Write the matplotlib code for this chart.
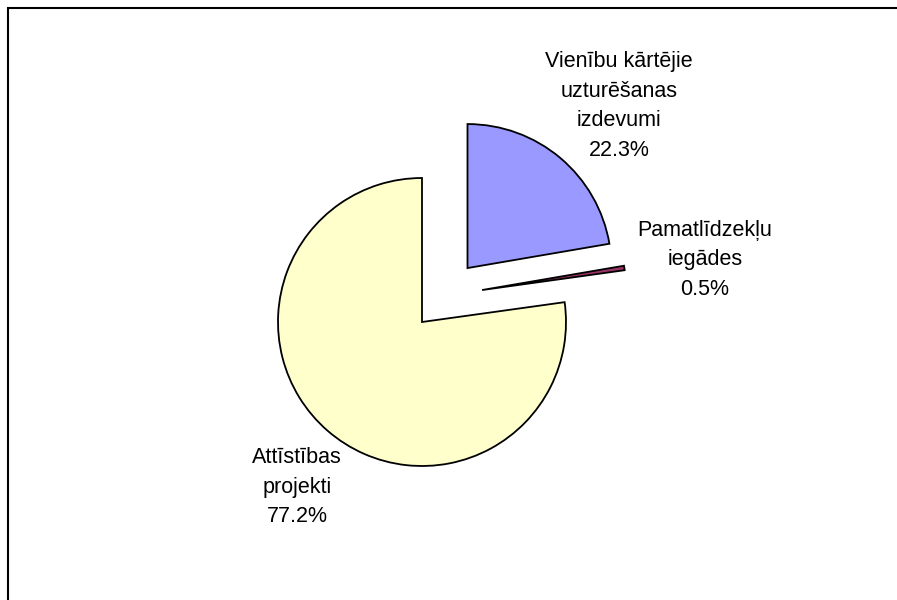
import matplotlib.pyplot as plt
from matplotlib.patches import Rectangle

# Slice data (clockwise from 12 o'clock)
labels = ['Vienību kārtējie\nuzturēšanas\nizdevumi', 'Pamatlīdzekļu\niegādes', 'Attīstības\nprojekti']
shares = [22.3, 0.5, 77.2]
colors = ['#9999FF', '#993366', '#FFFFCC']
explode = [0.49, 0.0, 0.0]
# label anchor points in pie-radius units
label_pos = [(1.368, 1.50), (1.965, 0.431), (-0.868, -1.146)]

fig = plt.figure(figsize=(8.97, 6.0), dpi=100)
ax = fig.add_axes([0, 0, 1, 1])

wedges, _ = ax.pie(shares, colors=colors, explode=explode, startangle=90,
                   counterclock=False, radius=1.0,
                   wedgeprops=dict(edgecolor='black', linewidth=1.3))

# the tiny slice is pulled out in its own direction
wedges[1].set_center((0.417, 0.222))

for lab, val, (x, y) in zip(labels, shares, label_pos):
    ax.text(x, y, f'{lab}\n{val:.1f}%', ha='center', va='center',
            fontsize=15.5, family='Liberation Sans', linespacing=1.55)

# axes spans the whole figure; 1 radius = 144 px, centre at (422, 322)
ax.set_xlim(-422 / 144, (897 - 422) / 144)
ax.set_ylim(-(600 - 322) / 144, 322 / 144)
ax.set_aspect('auto')
ax.axis('off')

# outer frame (only top and left edges fall inside the image)
fig.patches.append(Rectangle((7.5 / 897, -0.05), 1.2, (600 - 7.5) / 600 + 0.05,
                             transform=fig.transFigure, fill=False,
                             edgecolor='black', linewidth=1.5))

plt.savefig('out.png', dpi=100)
